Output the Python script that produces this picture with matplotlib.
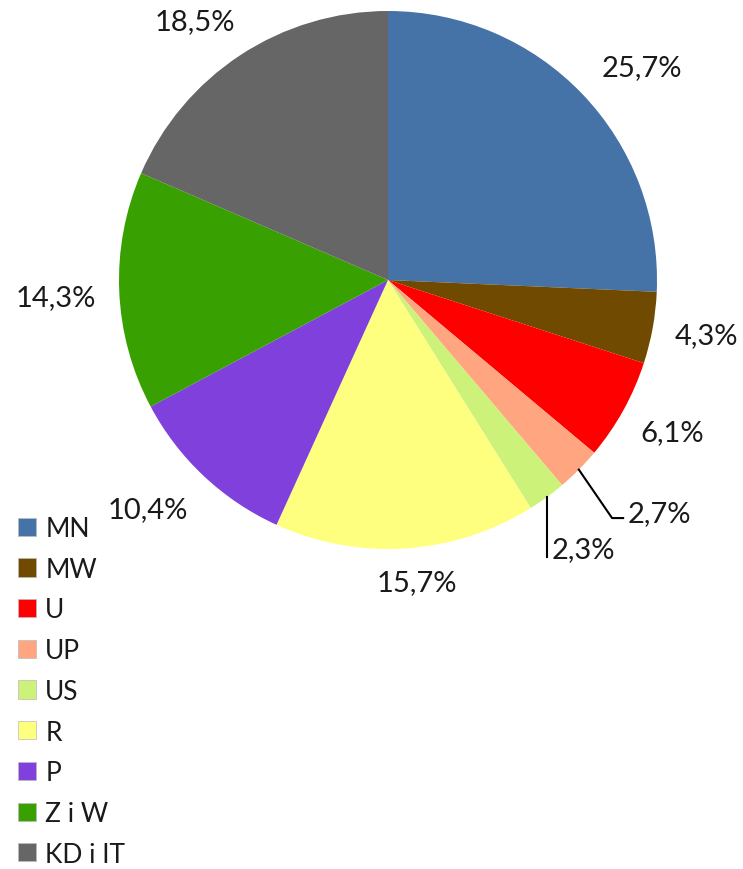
import numpy as np
import matplotlib.pyplot as plt
from matplotlib.patches import Patch

plt.rcParams['font.family'] = ['Lato', 'DejaVu Sans']

# data
categories = ['MN', 'MW', 'U', 'UP', 'US', 'R', 'P', 'Z i W', 'KD i IT']
shares = [25.7, 4.3, 6.1, 2.7, 2.3, 15.7, 10.4, 14.3, 18.5]
labels = ['25,7%', '4,3%', '6,1%', '2,7%', '2,3%', '15,7%', '10,4%', '14,3%', '18,5%']

colors = ['#4572A7', '#6F4A00', '#FF0000', '#FFA57F', '#CCF27A',
          '#FFFF7F', '#7F40DB', '#38A000', '#666666']

W, H = 743, 870
cx, cy, r = 388, 281, 269

fig = plt.figure(figsize=(W / 100, H / 100), dpi=100)
ax = fig.add_axes([(cx - r) / W, (H - cy - r) / H, 2 * r / W, 2 * r / H])

wedges, _ = ax.pie(shares, colors=colors, startangle=90, counterclock=False,
                   radius=1, wedgeprops=dict(linewidth=0))
ax.set_xlim(-1, 1)
ax.set_ylim(-1, 1)
ax.axis('off')

# label placement: (angle nudge in degrees, distance from centre)
label_pos = {0: (-3.7, 1.232), 1: (0.5, 1.20), 2: (0.8, 1.198),
             5: (1.7, 1.128), 6: (-3.1, 1.233), 7: (0.6, 1.236), 8: (3.4, 1.20)}

for i, w in enumerate(wedges):
    mid = np.deg2rad((w.theta1 + w.theta2) / 2)
    ex, ey = np.cos(mid), np.sin(mid)
    if i in label_pos:
        da, d = label_pos[i]
        a = mid + np.deg2rad(da)
        ax.text(d * np.cos(a), d * np.sin(a), labels[i], ha='center', va='center',
                fontsize=21, color='#1a1a1a')
    elif categories[i] == 'UP':
        # leader line bends to the right
        ax.plot([ex, 0.833, 0.874], [ey, -0.885, -0.885], color='black', lw=1.5,
                clip_on=False)
        ax.text(0.89, -0.866, labels[i], ha='left', va='center', fontsize=21,
                color='#1a1a1a')
    else:
        ax.plot([ex, ex], [ey, -1.03], color='black', lw=1.5, clip_on=False)
        ax.text(ex + 0.018, -1.0, labels[i], ha='left', va='center', fontsize=21,
                color='#1a1a1a')

handles = [Patch(facecolor=c, edgecolor='#bbbbbb', linewidth=0.5) for c in colors]
fig.legend(handles, categories, loc='upper left', bbox_to_anchor=(18 / W, 1 - 517 / H),
           frameon=False, fontsize=19, handlelength=0.68, handleheight=0.68,
           handletextpad=0.35, labelspacing=0.595, borderpad=0, borderaxespad=0,
           labelcolor='#1a1a1a')

fig.savefig('out.png', dpi=100)
